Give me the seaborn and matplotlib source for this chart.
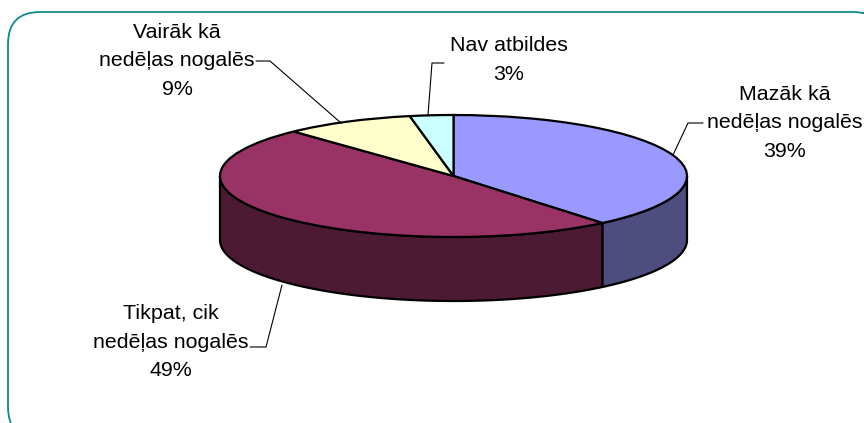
import numpy as np
import matplotlib
matplotlib.use("Agg")
import matplotlib.pyplot as plt
from matplotlib.patches import FancyBboxPatch
import seaborn as sns

labels = ["Mazāk kā\nnedēļas nogalēs", "Tikpat, cik\nnedēļas nogalēs", "Vairāk kā\nnedēļas nogalēs", "Nav atbildes"]
shares = [39, 49, 9, 3]
top_colors = ["#9999FF", "#993366", "#FFFFCC", "#CCFFFF"]
side_colors = ["#4D4D80", "#4D1A33", "#80806A", "#668080"]
frame_color = "#0E8A8A"

sns.set_style("white")
plt.rcParams["font.family"] = ["Liberation Sans", "DejaVu Sans"]
W, H = 864, 423
fig = plt.figure(figsize=(W / 100, H / 100), dpi=100)

bg = fig.add_axes([0, 0, 1, 1])
bg.set_xlim(0, W); bg.set_ylim(H, 0); bg.axis("off")
bg.add_patch(FancyBboxPatch((8, 12), 877, 427, boxstyle="round,pad=0,rounding_size=32",
                            fc="white", ec=frame_color, lw=1.3))

# pie axes: the plate's top ellipse fills x 220-687, y 115-237
L, R, T, B = 220, 687, 115, 237
ax = fig.add_axes([L / W, 1 - B / H, (R - L) / W, (B - T) / H])
ax.patch.set_alpha(0)
depth = 64 / ((B - T) / 2)
edge = dict(edgecolor="black", linewidth=1.6)

fr = np.cumsum([0] + shares) / 100 * 2 * np.pi
for i in range(len(shares)):
    lo, hi = max(fr[i], np.pi / 2), min(fr[i + 1], 3 * np.pi / 2)
    if hi <= lo:
        continue
    t = np.linspace(lo, hi, 120)
    x, y = np.sin(t), np.cos(t)
    ax.fill(np.r_[x, x[::-1]], np.r_[y, y[::-1] - depth], fc=side_colors[i], clip_on=False, **edge, joinstyle="round")

ax.pie(shares, colors=top_colors, startangle=90, counterclock=False, radius=1,
       wedgeprops=dict(edgecolor="black", linewidth=1.6, clip_on=False))
ax.set_aspect("auto")
ax.set_xlim(-1, 1); ax.set_ylim(-1, 1)

# leader lines
leaders = [([673, 688, 703], [155, 123, 123]),
           ([282, 266, 250], [285, 347, 347]),
           ([341, 270, 256], [123, 61, 61]),
           ([428, 432, 444], [115, 63, 63])]
for lx, ly in leaders:
    fig.add_artist(plt.Line2D(np.array(lx) / W, 1 - np.array(ly) / H, color="black", lw=0.8))

text_pos = [(785, 123), (171, 342), (177, 61), (509, 60)]
for lab, s, (tx, ty) in zip(labels, shares, text_pos):
    fig.text(tx / W, 1 - ty / H, f"{lab}\n{s}%", ha="center", va="center", fontsize=15.4,
             color="black", linespacing=1.63)

fig.savefig("out.png", dpi=100)
